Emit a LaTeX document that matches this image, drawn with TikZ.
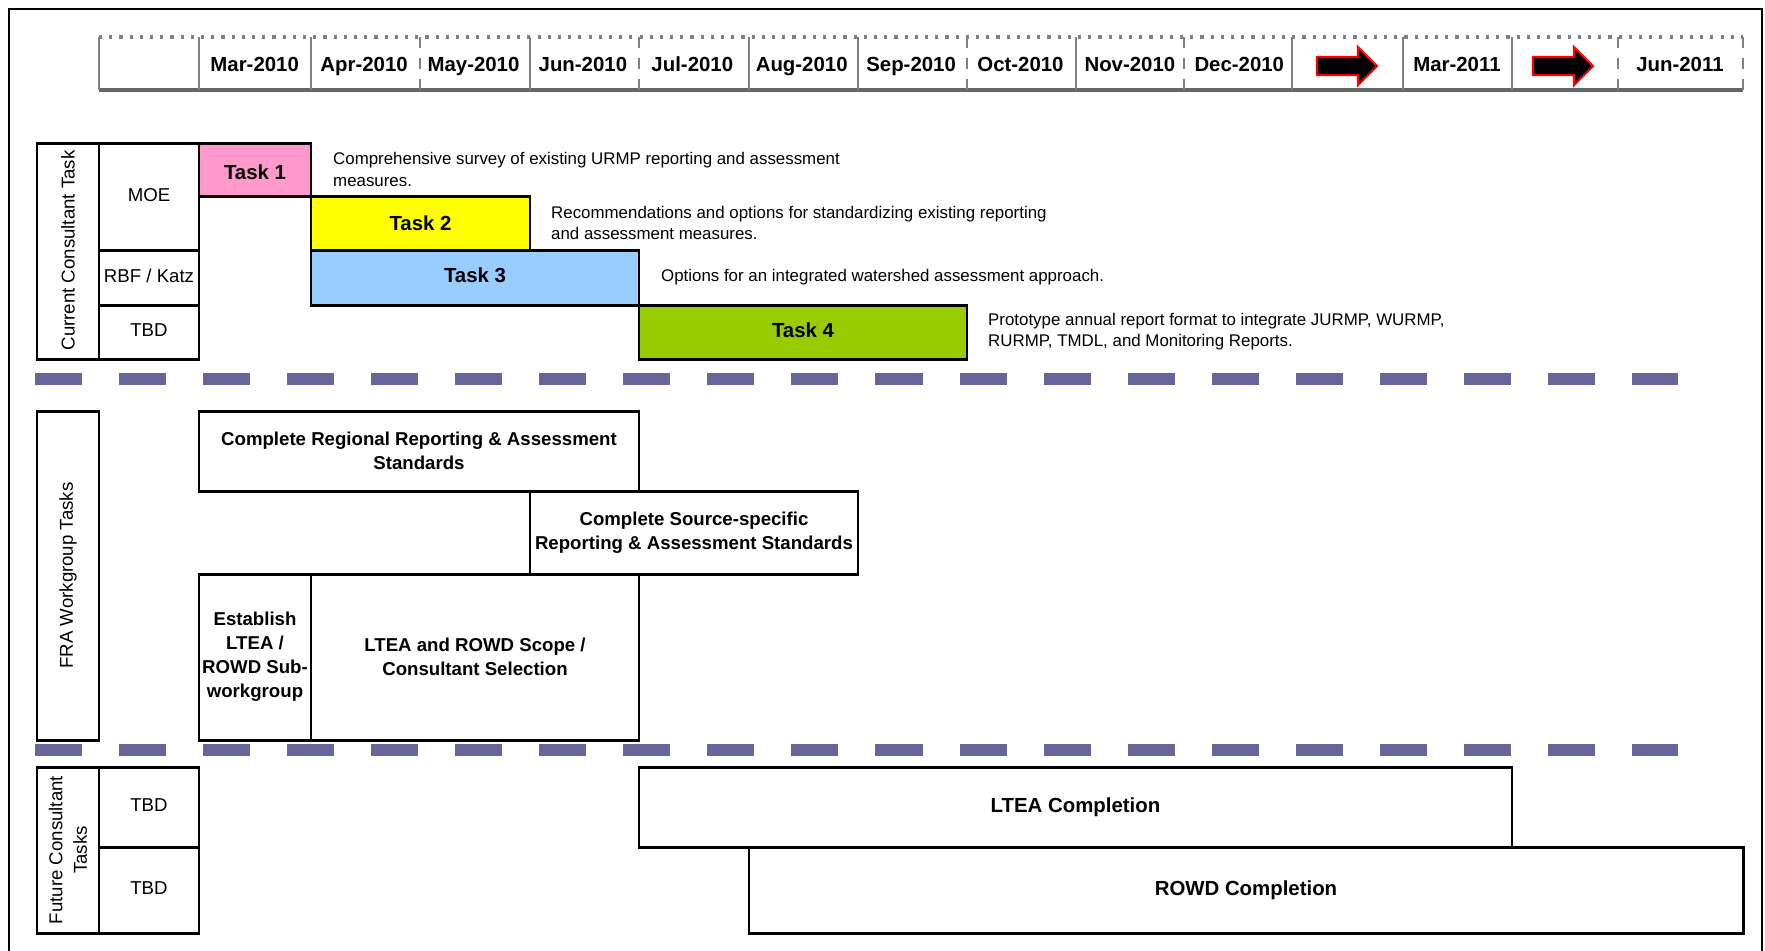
\documentclass[tikz,border=0pt]{standalone}
\usepackage{fontspec}
\setmainfont{Liberation Sans}
\usetikzlibrary{fit,positioning}
\definecolor{taskpink}{HTML}{FF99CC}
\definecolor{taskyellow}{HTML}{FFFF00}
\definecolor{taskblue}{HTML}{99CCFF}
\definecolor{taskgreen}{HTML}{99CC00}
\definecolor{sepblue}{HTML}{666699}
\tikzset{
  bar/.style={draw, line width=0.85pt, inner sep=0pt},
  bartext/.style={inner sep=0pt, text height=4.2pt, text depth=1.2pt,
    font=\fontsize{5.8}{7}\selectfont\bfseries},
  fratext/.style={inner sep=0pt, align=center,
    font=\fontsize{5.3}{6.8}\selectfont\bfseries},
  celltext/.style={inner sep=0pt, text height=3.85pt, text depth=1.1pt,
    font=\fontsize{5.3}{6.4}\selectfont},
  sidetext/.style={rotate=90, inner sep=0pt, align=center,
    font=\fontsize{5.3}{7}\selectfont},
  note/.style={inner sep=0pt, align=left, font=\fontsize{4.8}{6}\selectfont},
  hdr/.style={inner sep=0pt, anchor=base, font=\fontsize{5.8}{7}\selectfont\bfseries},
  hline/.style={draw=gray, line width=0.5pt},
  hdrarrow/.style={fill=black, draw=red, line width=0.6pt, line join=miter},
  sep/.style={draw=sepblue, line width=3.4pt, dash pattern=on 0.47cm off 0.37cm},
}

\begin{document}
\begin{tikzpicture}[x=0.01cm, y=-0.01cm]
\useasboundingbox (0,0) rectangle (1765,950);
\draw[line width=0.6pt] (9,960) -- (9,9) -- (1762,9) -- (1762,960);

% month header
\draw[gray, line width=0.9pt, dotted] (99,37) -- (1743,37);
\draw[gray!80!black, line width=0.9pt] (99,90) -- (1743,90);
\foreach \x in {99,199,311,530,749,858,1076,1292,1403,1512}
  \draw[hline] (\x,37) -- (\x,90);
\foreach \x in {420,639,967,1184,1618,1743}
  \draw[hline, dashed] (\x,37) -- (\x,90);
\foreach \m [count=\i from 0] in {Mar-2010,Apr-2010,May-2010,Jun-2010,Jul-2010,
    Aug-2010,Sep-2010,Oct-2010,Nov-2010,Dec-2010}
  \node[hdr] (m\i) at (254.7+109.4*\i,71) {\m};
\node[hdr] (m11) at (1457,71) {Mar-2011};
\node[hdr] (m13) at (1680,71) {Jun-2011};
\foreach \ax in {1317,1533}
  \draw[hdrarrow, shift={(\ax,0)}] (0,57) -- (41,57) -- (41,47) -- (60,66)
    -- (41,85) -- (41,75) -- (0,75) -- cycle;

% current consultant tasks
\node[bar, fit={(37,143) (99,359)}] (curbox) {};
\node[sidetext, anchor=west] (curlbl) at (68,351) {Current Consultant Task};
\node[bar, fit={(99,143) (199,250)}] (moe) {};
\node[celltext] (moetxt) at (moe.center) {MOE};
\node[bar, fit={(99,250) (199,305)}] (rbf) {};
\node[celltext] (rbftxt) at (rbf.center) {RBF / Katz};
\node[bar, fit={(99,305) (199,359)}] (tbdA) {};
\node[celltext] (tbdAtxt) at (tbdA.center) {TBD};
\node[bar, fill=taskpink, fit={(199,143) (311,196)}] (task1) {};
\node[bartext, yshift=-1.3pt] (task1txt) at (task1.center) {Task 1};
\node[bar, fill=taskyellow, fit={(311,196) (530,250)}] (task2) {};
\node[bartext, yshift=-0.5pt] (task2txt) at (task2.center) {Task 2};
\node[bar, fill=taskblue, fit={(311,250) (639,305)}] (task3) {};
\node[bartext] (task3txt) at (task3.center) {Task 3};
\node[bar, fill=taskgreen, fit={(639,305) (967,359)}] (task4) {};
\node[bartext] (task4txt) at (task4.center) {Task 4};
\node[note, right=0.2cm of task1] (note1)
  {Comprehensive survey of existing URMP reporting and assessment\\measures.};
\node[note, right=0.19cm of task2] (note2)
  {Recommendations and options for standardizing existing reporting\\and assessment measures.};
\node[note, right=0.2cm of task3] (note3)
  {Options for an integrated watershed assessment approach.};
\node[note, right=0.19cm of task4] (note4)
  {Prototype annual report format to integrate JURMP, WURMP,\\RURMP, TMDL, and Monitoring Reports.};

\draw[sep] (35,379) -- (1678,379);

% workgroup tasks
\node[bar, fit={(37,411) (99,740)}] (frabox) {};
\node[sidetext] (fralbl) at (frabox.center) {FRA Workgroup Tasks};
\node[bar, fit={(199,411) (639,491)}] (regional) {};
\node[fratext] (regionaltxt) at (regional.center)
  {Complete Regional Reporting \& Assessment\\Standards};
\node[bar, fit={(530,491) (858,574)}] (source) {};
\node[fratext] (sourcetxt) at (source.center)
  {Complete Source-specific\\Reporting \& Assessment Standards};
\node[bar, fit={(199,574) (311,740)}] (establish) {};
\node[fratext] (establishtxt) at (establish.center)
  {Establish\\LTEA /\\ROWD Sub-\\workgroup};
\node[bar, fit={(311,574) (639,740)}] (scope) {};
\node[fratext] (scopetxt) at (scope.center)
  {LTEA and ROWD Scope /\\Consultant Selection};

\draw[sep] (35,750) -- (1678,750);

% future consultant tasks
\node[bar, fit={(37,767) (99,933)}] (futbox) {};
\node[sidetext] (futlbl) at (futbox.center) {Future Consultant\\Tasks};
\node[bar, fit={(99,767) (199,847)}] (tbdB) {};
\node[celltext] (tbdBtxt) at (tbdB.center) {TBD};
\node[bar, fit={(99,847) (199,933)}] (tbdC) {};
\node[celltext] (tbdCtxt) at (tbdC.center) {TBD};
\node[bar, fit={(639,767) (1512,847)}] (ltea) {};
\node[bartext] (lteatxt) at (ltea.center) {LTEA Completion};
\node[bar, fit={(749,847) (1743,933)}] (rowd) {};
\node[bartext] (rowdtxt) at (rowd.center) {ROWD Completion};
\end{tikzpicture}
\end{document}
